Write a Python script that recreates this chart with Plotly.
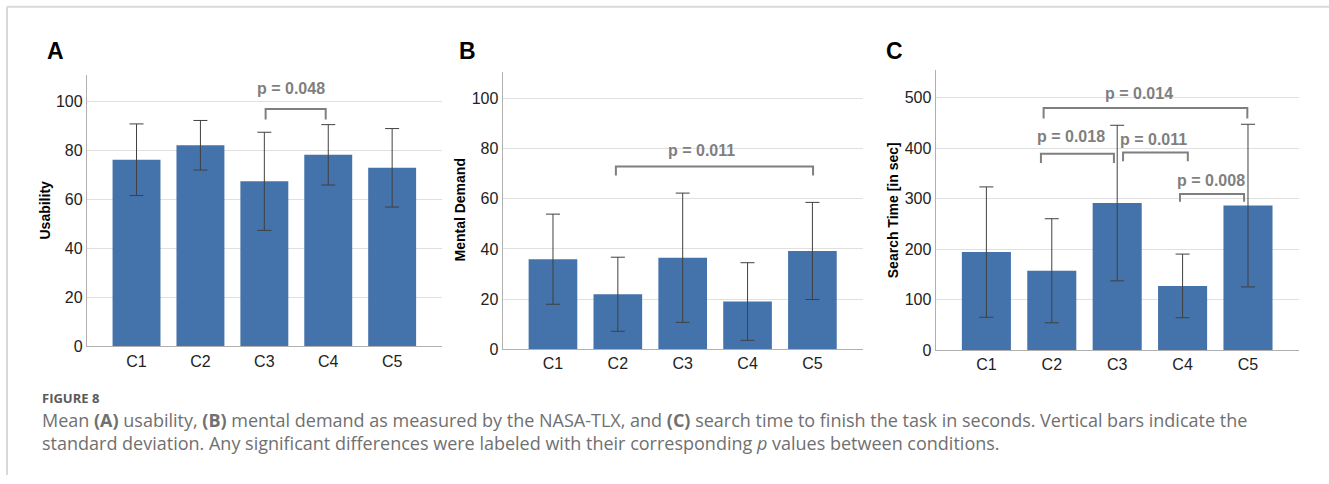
import plotly.graph_objects as go

categories = ["C1", "C2", "C3", "C4", "C5"]

usability_mean = [76.1, 82.0, 67.3, 78.1, 72.8]
usability_sd = [14.6, 10.1, 20.0, 12.3, 16.0]

mental_mean = [35.9, 21.9, 36.5, 19.0, 39.2]
mental_sd = [18.0, 14.8, 25.8, 15.5, 19.4]

search_mean = [194, 157, 291, 127, 286]
search_sd = [129, 103, 154, 63, 161]

# significance brackets: (left index, right index, top value, leg-bottom value)
brackets_a = [(2.02, 2.96, 96.8, 92.5)]
brackets_b = [(0.97, 4.01, 72.9, 69.3)]
brackets_c = [(0.875, 3.99, 479, 458.5),
              (0.834, 1.95, 388.6, 370.5),
              (2.09, 3.08, 391.3, 373.8),
              (2.96, 3.94, 309, 293.4)]
# p labels: (text, x index, y value)
plabels_a = [("p = 0.048", 2.41, 105)]
plabels_b = [("p = 0.011", 2.29, 79.4)]
plabels_c = [("p = 0.014", 2.33, 507), ("p = 0.018", 1.29, 422),
             ("p = 0.011", 2.56, 416), ("p = 0.008", 3.43, 335)]

W, H = 1329, 484
BAR = "#4472aa"
GRAY = "#7f7f7f"

panels = [
    dict(letter="A", mean=usability_mean, sd=usability_sd, title="Usability",
         x0=87, x1=442, ytop=76, ybot=353, yr=[0, 110.8], dtick=20,
         br=brackets_a, pl=plabels_a, lx=55, tx=45),
    dict(letter="B", mean=mental_mean, sd=mental_sd, title="Mental Demand",
         x0=502.7, x1=863, ytop=73.3, ybot=355.7, yr=[0, 110.7], dtick=20,
         br=brackets_b, pl=plabels_b, lx=467, tx=460),
    dict(letter="C", mean=search_mean, sd=search_sd, title="Search Time [in sec]",
         x0=935.7, x1=1299, ytop=71.7, ybot=356.7, yr=[0, 553.7], dtick=100,
         br=brackets_c, pl=plabels_c, lx=894, tx=893),
]

fig = go.Figure()
shapes = []
annotations = []

for i, p in enumerate(panels):
    n = i + 1
    xa = "x" if n == 1 else f"x{n}"
    ya = "y" if n == 1 else f"y{n}"
    fig.add_trace(go.Bar(
        x=list(range(len(categories))), y=p["mean"], width=0.75,
        marker=dict(color=BAR, line=dict(width=0)),
        error_y=dict(type="data", array=p["sd"], visible=True,
                     color="#404040", thickness=1, width=7),
        xaxis=xa, yaxis=ya, showlegend=False,
    ))
    axk = "xaxis" if n == 1 else f"xaxis{n}"
    ayk = "yaxis" if n == 1 else f"yaxis{n}"
    fig.layout[axk] = dict(
        domain=[p["x0"] / W, p["x1"] / W], anchor=ya,
        range=[-0.775, 4.78], tickvals=list(range(len(categories))),
        ticktext=categories, showgrid=False, zeroline=False,
        showline=True, linecolor="#b0b0b0", linewidth=1.3, ticks="",
        tickfont=dict(family="Liberation Sans, Arial", size=16, color="#222"),
        fixedrange=True,
    )
    fig.layout[ayk] = dict(
        domain=[1 - p["ybot"] / H, 1 - p["ytop"] / H], anchor=xa,
        range=p["yr"], dtick=p["dtick"], showgrid=True, gridcolor="#e0e0e0",
        gridwidth=1, zeroline=False, showline=True, linecolor="#b0b0b0",
        linewidth=1.3, ticks="",
        tickfont=dict(family="Liberation Sans, Arial", size=16, color="#222"),
        fixedrange=True,
    )
    for (a, b, top, bot) in p["br"]:
        shapes.append(dict(type="path", xref=xa, yref=ya,
                           path=f"M {a},{bot} L {a},{top} L {b},{top} L {b},{bot}",
                           line=dict(color=GRAY, width=2)))
    for (t, x, y) in p["pl"]:
        annotations.append(dict(text=f"<b>{t}</b>", x=x, y=y, xref=xa, yref=ya,
                                showarrow=False, xanchor="center", yanchor="middle",
                                font=dict(family="Liberation Sans, Arial", size=16,
                                          color=GRAY)))
    annotations.append(dict(text=f"<b>{p['letter']}</b>", x=p["lx"] / W, y=1 - 52 / H,
                            xref="paper", yref="paper", showarrow=False,
                            xanchor="center", yanchor="middle",
                            font=dict(family="Liberation Sans, Arial", size=23, color="#000")))
    annotations.append(dict(text=f"<b>{p['title']}</b>", x=p["tx"] / W,
                            y=1 - ((p["ytop"] + p["ybot"]) / 2) / H,
                            xref="paper", yref="paper", showarrow=False, textangle=-90,
                            xanchor="center", yanchor="middle",
                            font=dict(family="Liberation Sans, Arial", size=14, color="#000")))

# frame lines
shapes.append(dict(type="line", xref="paper", yref="paper", x0=7 / W, x1=1,
                   y0=1 - 7 / H, y1=1 - 7 / H, line=dict(color="#d9d9d9", width=2)))
shapes.append(dict(type="line", xref="paper", yref="paper", x0=7 / W, x1=7 / W,
                   y0=0, y1=1 - 7 / H, line=dict(color="#d9d9d9", width=2)))

caption = ("Mean <b>(A)</b> usability, <b>(B)</b> mental demand as measured by the NASA-TLX, and "
           "<b>(C)</b> search time to finish the task in seconds. Vertical bars indicate the<br>"
           "standard deviation. Any significant differences were labeled with their "
           "corresponding <i>p</i> values between conditions.")
annotations.append(dict(text="<b>FIGURE 8</b>", x=40 / W, y=1 - 406 / H, xref="paper",
                        yref="paper", showarrow=False, xanchor="left", yanchor="middle",
                        font=dict(family="Open Sans, Noto Sans", size=13, color="#5a5a5a")))
annotations.append(dict(
    text=caption, x=40 / W, y=1 - 440 / H, xref="paper", yref="paper", showarrow=False,
    xanchor="left", yanchor="middle", align="left",
    font=dict(family="Open Sans, Noto Sans", size=18, color="#707070")))

fig.update_layout(
    width=W, height=H, margin=dict(l=0, r=0, t=0, b=0),
    paper_bgcolor="white", plot_bgcolor="white",
    shapes=shapes, annotations=annotations, bargap=0.25,
)

fig.write_html("out.html", config={"displayModeBar": False})
